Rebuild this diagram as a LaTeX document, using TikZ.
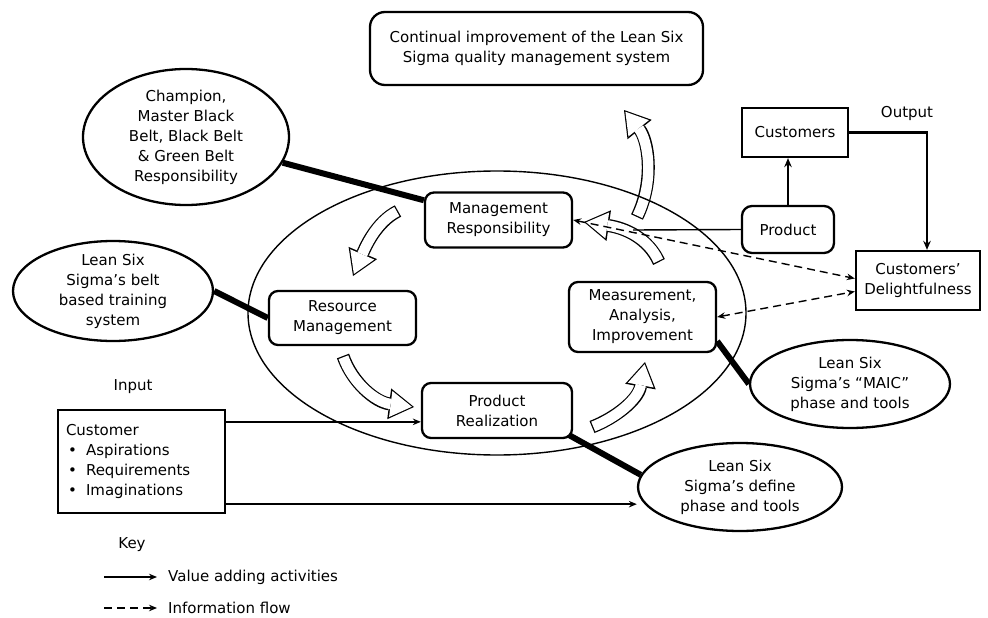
\documentclass[tikz,border=0pt]{standalone}
\usepackage{fontspec}
\setmainfont{DejaVu Sans}
\usetikzlibrary{shapes.geometric,arrows.meta,calc}
\pgfdeclarelayer{bg}
\pgfsetlayers{bg,main}

% curved hollow block arrow: black outline shaft + head, white interior
\newcommand{\blockarrow}[1]{%
  \draw[blockout] #1;
  \draw[blockin] #1;}

\begin{document}
\begin{tikzpicture}[x=1pt,y=-1pt,font=\fontsize{15}{20}\selectfont]
\tikzset{
  procbox/.style={draw, line width=2.3pt, rounded corners=9pt, fill=white,
    align=center, inner sep=0pt, minimum width=147pt, minimum height=55pt},
  plainbox/.style={draw, line width=2.3pt, fill=white, align=center, inner sep=0pt},
  oval/.style={draw, ellipse, line width=2.3pt, fill=white, align=center,
    inner xsep=-8pt, inner ysep=-8pt},
  tip/.style={-{Stealth[length=8pt,width=6.5pt]}},
  va/.style={line width=1.4pt, tip},
  vabold/.style={line width=2.6pt, -{Stealth[length=9pt,width=7.5pt]}},
  info/.style={line width=1.4pt, dash pattern=on 8pt off 5pt,
    {Stealth[length=8pt,width=6.5pt]}-{Stealth[length=8pt,width=6.5pt]}},
  infokey/.style={line width=1.4pt, dash pattern=on 8pt off 5pt, tip},
  heavy/.style={line width=6pt},
  blockout/.style={line width=13pt,
    -{Triangle[length=25pt,width=31pt,line width=0pt]}},
  blockin/.style={line width=10.4pt, white, shorten <=1.3pt, shorten >=2.2pt,
    -{Triangle[length=21.3pt,width=26.2pt,line width=0pt]}},
}
\useasboundingbox (0,0) rectangle (988,618);

% cycle arrows of the quality management system
\blockarrow{(637,217) .. controls (655,180) and (648,140) .. (624,110)}
\blockarrow{(659,262) .. controls (648,238) and (625,228) .. (584,222)}
\blockarrow{(398,211) .. controls (376,222) and (365,248) .. (353,276)}
\blockarrow{(343,356) .. controls (352,382) and (375,402) .. (414,407)}
\blockarrow{(592,427) .. controls (615,418) and (638,400) .. (645,362)}

% boundary of the system
\node[draw, ellipse, line width=1.4pt, minimum width=498pt, minimum height=284pt]
  (qms) at (497,313) {};

% process boxes
\node[procbox, rounded corners=15pt, minimum width=333pt, minimum height=73pt]
  (top) at (536.5,48.5) {Continual improvement of the Lean Six\\Sigma quality management system};
\node[procbox] (mgmt) at (498.5,220) {Management\\Responsibility};
\node[procbox, minimum height=54pt] (res) at (342.5,318) {Resource\\Management};
\node[procbox, minimum width=150pt] (pr) at (497,410.5) {Product\\Realization};
\node[procbox, minimum height=70pt] (meas) at (642.5,317) {Measurement,\\Analysis,\\Improvement};
\node[procbox, rounded corners=10pt, minimum width=92pt, minimum height=47pt]
  (product) at (788,229.5) {Product};
\node[plainbox, minimum width=106pt, minimum height=49pt] (customers) at (795,132.5) {Customers};
\node[plainbox, minimum width=124pt, minimum height=59pt] (cd) at (918,280.5) {Customers’\\Delightfulness};
\node[plainbox, minimum width=167pt, minimum height=103pt, text width=151pt, align=left]
  (custbox) at (141.5,461.5)
  {Customer\\
   \makebox[20pt][l]{\hspace{2pt}\textbullet}Aspirations\\
   \makebox[20pt][l]{\hspace{2pt}\textbullet}Requirements\\
   \makebox[20pt][l]{\hspace{2pt}\textbullet}Imaginations};

% Lean Six Sigma ovals
\node[oval, minimum width=206pt, minimum height=136pt] (champ) at (186,137)
  {Champion,\\Master Black\\Belt, Black Belt\\\& Green Belt\\Responsibility};
\node[oval, minimum width=200pt, minimum height=100pt] (belt) at (113,291)
  {Lean Six\\Sigma’s belt\\based training\\system};
\node[oval, minimum width=200pt, minimum height=88pt] (maic) at (850,384)
  {Lean Six\\Sigma’s “MAIC”\\phase and tools};
\node[oval, minimum width=204pt, minimum height=88pt] (def) at (740,487)
  {Lean Six\\Sigma’s define\\phase and tools};

% labels
\node (inlabel) at (133,387) {Input};
\node (outlabel) at (907,113) {Output};
\node (keylabel) at (132,545) {Key};

% heavy links between ovals and boxes
\draw[heavy] (champ) -- (mgmt);
\draw[heavy] (belt.east) -- (res.west);
\draw[heavy] (meas.-18) -- (maic.west);
\begin{pgfonlayer}{bg}
\draw[heavy] ([shift={(-4pt,4pt)}]pr.south east) -- (def.173);
\end{pgfonlayer}

% value adding activities
\coordinate (inA) at ([yshift=-13pt]custbox.north east);
\coordinate (inB) at ([yshift=10pt]custbox.south east);
\draw[va] (inA) -- (pr.west |- inA);
\draw[va] (inB) -- (def.west |- inB);
\draw[vabold] (product.north) -- (product.north |- customers.south);
\draw[vabold] (customers.east) -| ([xshift=9pt]cd.north);
\coordinate (pjoin) at (633,230);
\draw[line width=1.4pt] (product.west) -- (pjoin);

% information flow
\draw[info] (mgmt.east) -- ([yshift=2pt]cd.west);
\draw[info] (meas.east) -- ([yshift=-11pt]cd.west);

% key
\coordinate (k1a) at (104,577);
\coordinate (k1b) at (157,577);
\coordinate (k2a) at (104,608);
\coordinate (k2b) at (157,608);
\draw[va] (k1a) -- (k1b);
\draw[infokey] (k2a) -- (k2b);
\node[anchor=west, inner sep=0pt] (k1t) at (168,577) {Value adding activities};
\node[anchor=west, inner sep=0pt] (k2t) at (168,608) {Information flow};
\end{tikzpicture}
\end{document}
